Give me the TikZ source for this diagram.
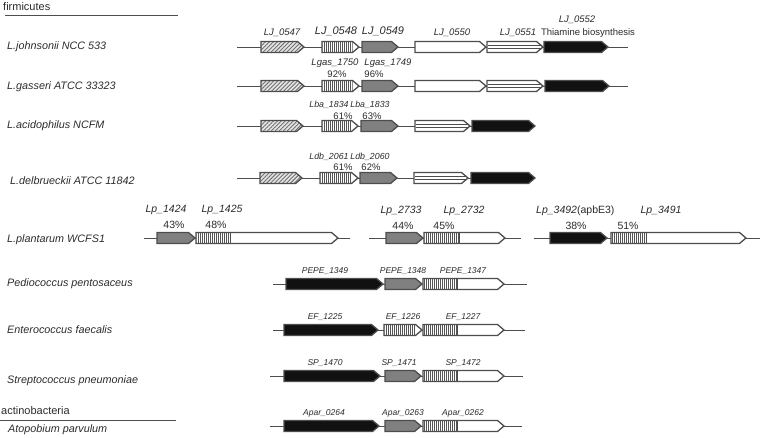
\documentclass[tikz,border=0pt]{standalone}
\usepackage{fontspec}
\setmainfont{Liberation Sans}
\usepackage{tikz}
\usetikzlibrary{patterns.meta}
\definecolor{edgegray}{HTML}{4D4D4D}
\definecolor{genegray}{HTML}{808080}
\definecolor{geneblack}{HTML}{111111}
\definecolor{hatchbg}{HTML}{E4E4E4}
\definecolor{hatchline}{HTML}{707070}
\definecolor{stripegray}{HTML}{555555}
\definecolor{textgray}{HTML}{2B2B2B}
\tikzset{
  backbone/.style={draw=edgegray, line width=0.8pt},
  rule/.style={draw=edgegray, line width=0.8pt},
  genebox/.style={draw=edgegray, line width=1.3pt, line join=miter},
  whitegene/.style={genebox, fill=white},
  graygene/.style={genebox, fill=genegray},
  blackgene/.style={genebox, fill=geneblack},
  hatchgene/.style={genebox, preaction={fill=hatchbg}, pattern={Lines[angle=45,distance=2.8pt,line width=0.9pt]}, pattern color=hatchline},
  stripefill/.style={pattern={Lines[angle=90,distance=2pt,line width=0.8pt]}, pattern color=stripegray},
  innerline/.style={draw=edgegray, line width=0.8pt},
  group/.style={anchor=west, inner sep=0pt, text=textgray, font=\fontsize{11}{13}\selectfont},
  species/.style={anchor=west, inner sep=0pt, text=textgray, font=\fontsize{10.8}{13}\selectfont\itshape},
  tag/.style={inner sep=0pt, text=textgray, font=\fontsize{9.5}{11}\selectfont\itshape},
  midtag/.style={inner sep=0pt, text=textgray, font=\fontsize{8.8}{10}\selectfont\itshape},
  bigtag/.style={inner sep=0pt, text=textgray, font=\fontsize{11}{13}\selectfont\itshape},
  smalltag/.style={inner sep=0pt, text=textgray, font=\fontsize{8.5}{10}\selectfont\itshape},
  lptag/.style={inner sep=0pt, text=textgray, font=\fontsize{10.5}{12}\selectfont\itshape},
  pct/.style={inner sep=0pt, text=textgray, font=\fontsize{9.5}{11}\selectfont},
  lppct/.style={inner sep=0pt, text=textgray, font=\fontsize{10.5}{12}\selectfont},
  note/.style={inner sep=0pt, text=textgray, font=\fontsize{9.5}{11}\selectfont}
}
% gene arrow: {x start}{x tip}{y}{style}
\newcommand{\gene}[4]{\path[#4] (#1,#3-5.5) -- (#2-6.5,#3-5.5) -- (#2,#3) -- (#2-6.5,#3+5.5) -- (#1,#3+5.5) -- cycle;}
% striped part of a gene: {x start}{x end}{y}
\newcommand{\stripes}[3]{\fill[stripefill] (#1+0.65,#3-4.85) rectangle (#2,#3+4.85);}
\newcommand{\domain}[3]{\stripes{#1}{#2}{#3}\draw[genebox, line width=1pt] (#2,#3-5) -- (#2,#3+5);}
\newcommand{\twolines}[3]{\draw[innerline] (#1+0.7,#3-1.7) -- (#2-2.5,#3-1.7) (#1+0.7,#3+1.7) -- (#2-2.5,#3+1.7);}

\begin{document}
\begin{tikzpicture}[x=1pt, y=-1pt]
\useasboundingbox (0,0) rectangle (760,438);

% groups
\node[group] (firmicutes) at (3,7) {firmicutes};
\draw[rule] (5,15) -- (178,15);
\node[group] (actino) at (1,411) {actinobacteria};
\draw[rule] (0,420) -- (176,420);

% species
\node[species] (johnsonii) at (7,47) {L.johnsonii NCC 533};
\node[species] (gasseri) at (7,87) {L.gasseri ATCC 33323};
\node[species] (acidophilus) at (7,126) {L.acidophilus NCFM};
\node[species] (delbrueckii) at (10,181) {L.delbrueckii ATCC 11842};
\node[species] (plantarum) at (7,240) {L.plantarum WCFS1};
\node[species] (pediococcus) at (7,284) {Pediococcus pentosaceus};
\node[species] (enterococcus) at (7,330) {Enterococcus faecalis};
\node[species] (streptococcus) at (7,381) {Streptococcus pneumoniae};
\node[species] (atopobium) at (8,430) {Atopobium parvulum};

% L. johnsonii
\draw[backbone] (237,47) -- (628,47);
\gene{261}{304}{47}{hatchgene}
\gene{322}{359}{47}{whitegene}\stripes{322}{352.5}{47}
\gene{362}{398}{47}{graygene}
\gene{415}{486}{47}{whitegene}
\gene{487}{543}{47}{whitegene}\twolines{487}{543}{47}
\gene{544}{608}{47}{blackgene}
\node[tag] (lj0547) at (282,33) {LJ\_0547};
\node[bigtag] (lj0548) at (336,31) {LJ\_0548};
\node[bigtag] (lj0549) at (383,31) {LJ\_0549};
\node[tag] (lj0550) at (452,33) {LJ\_0550};
\node[tag] (lj0551) at (518,33) {LJ\_0551};
\node[tag] (lj0552) at (577,20) {LJ\_0552};
\node[note] (thiamine) at (588,33) {Thiamine biosynthesis};

% L. gasseri
\draw[backbone] (237,86) -- (628,86);
\gene{261}{304}{86}{hatchgene}
\gene{322}{359}{86}{whitegene}\stripes{322}{352.5}{86}
\gene{362}{398}{86}{graygene}
\gene{415}{486}{86}{whitegene}
\gene{487}{543}{86}{whitegene}\twolines{487}{543}{86}
\gene{545}{609}{86}{blackgene}
\node[tag] (lgas1750) at (335,63) {Lgas\_1750};
\node[tag] (lgas1749) at (388,63) {Lgas\_1749};
\node[pct] (p92) at (337,74) {92\%};
\node[pct] (p96) at (374,74) {96\%};

% L. acidophilus
\draw[backbone] (237,126) -- (535,126);
\gene{261}{303}{126}{hatchgene}
\gene{322}{358}{126}{whitegene}\stripes{322}{351.5}{126}
\gene{361}{398}{126}{graygene}
\gene{415}{470}{126}{whitegene}\twolines{415}{470}{126}
\gene{472}{535}{126}{blackgene}
\node[midtag] (lba1834) at (329,105) {Lba\_1834};
\node[midtag] (lba1833) at (370,105) {Lba\_1833};
\node[pct] (p61a) at (343,116) {61\%};
\node[pct] (p63) at (372,116) {63\%};

% L. delbrueckii
\draw[backbone] (237,178) -- (535,178);
\gene{260}{302}{178}{hatchgene}
\gene{320}{358}{178}{whitegene}\stripes{320}{351.5}{178}
\gene{360}{397}{178}{graygene}
\gene{414}{468}{178}{whitegene}\twolines{414}{468}{178}
\gene{471}{535}{178}{blackgene}
\node[midtag] (ldb2061) at (329,157) {Ldb\_2061};
\node[midtag] (ldb2060) at (370,157) {Ldb\_2060};
\node[pct] (p61b) at (343,167) {61\%};
\node[pct] (p62) at (371,167) {62\%};

% L. plantarum
\draw[backbone] (144,238) -- (350,238);
\gene{157}{195}{238}{graygene}
\gene{196}{338}{238}{whitegene}\domain{196}{230}{238}
\draw[backbone] (369,238) -- (521,238);
\gene{386}{423}{238}{graygene}
\gene{424}{505}{238}{whitegene}\domain{424}{459}{238}
\draw[backbone] (534,238) -- (760,238);
\gene{550}{607}{238}{blackgene}
\gene{611}{746}{238}{whitegene}\domain{611}{646}{238}
\node[lptag] (lp1424) at (166,210) {Lp\_1424};
\node[lptag] (lp1425) at (222,210) {Lp\_1425};
\node[lppct] (p43) at (174,225) {43\%};
\node[lppct] (p48) at (216,225) {48\%};
\node[lptag] (lp2733) at (401,211) {Lp\_2733};
\node[lptag] (lp2732) at (464,211) {Lp\_2732};
\node[lppct] (p44) at (403,226) {44\%};
\node[lppct] (p45) at (444,226) {45\%};
\node[lptag, anchor=west] (lp3492) at (536,211) {Lp\_3492\textup{(apbE3)}};
\node[lptag] (lp3491) at (661,211) {Lp\_3491};
\node[lppct] (p38) at (576,226) {38\%};
\node[lppct] (p51) at (628,226) {51\%};

% Pediococcus
\draw[backbone] (273,284) -- (527,284);
\gene{286}{383}{284}{blackgene}
\gene{385}{422}{284}{graygene}
\gene{423}{504}{284}{whitegene}\domain{423}{457}{284}
\node[smalltag] (pepe1349) at (325,271) {PEPE\_1349};
\node[smalltag] (pepe1348) at (403,271) {PEPE\_1348};
\node[smalltag] (pepe1347) at (463,271) {PEPE\_1347};

% Enterococcus
\draw[backbone] (273,330) -- (525,330);
\gene{284}{378}{330}{blackgene}
\gene{384}{422}{330}{whitegene}\stripes{384}{415.5}{330}
\gene{423}{504}{330}{whitegene}\domain{423}{457}{330}
\node[smalltag] (ef1225) at (325,317) {EF\_1225};
\node[smalltag] (ef1226) at (403,317) {EF\_1226};
\node[smalltag] (ef1227) at (463,317) {EF\_1227};

% Streptococcus
\draw[backbone] (270,376) -- (523,376);
\gene{284}{380}{376}{blackgene}
\gene{385}{421}{376}{graygene}
\gene{423}{504}{376}{whitegene}\domain{423}{457}{376}
\node[smalltag] (sp1470) at (325,363) {SP\_1470};
\node[smalltag] (sp1471) at (399,363) {SP\_1471};
\node[smalltag] (sp1472) at (463,363) {SP\_1472};

% Atopobium
\draw[backbone] (270,426) -- (522,426);
\gene{284}{379}{426}{blackgene}
\gene{385}{421}{426}{graygene}
\gene{423}{504}{426}{whitegene}\domain{423}{457}{426}
\node[smalltag] (apar0264) at (324,413) {Apar\_0264};
\node[smalltag] (apar0263) at (403,413) {Apar\_0263};
\node[smalltag] (apar0262) at (463,413) {Apar\_0262};
\end{tikzpicture}
\end{document}
